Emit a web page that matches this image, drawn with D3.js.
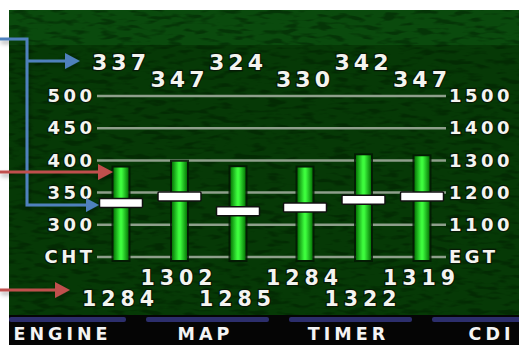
<!DOCTYPE html>
<html><head><meta charset="utf-8">
<script src="https://cdn.jsdelivr.net/npm/d3@7"></script>
<style>html,body{margin:0;padding:0;background:#fff;overflow:hidden}</style>
</head><body><svg id="c" width="519" height="345"></svg>
<script>
const cylinders = ["1","2","3","4","5","6"];
const chtValues = [337, 347, 324, 330, 342, 347];
const egtValues = [1284, 1302, 1285, 1284, 1322, 1319];
const chtTicks = [250, 300, 350, 400, 450, 500];
const chtTickLabels = ["CHT", "300", "350", "400", "450", "500"];
const egtTicks = [1000, 1100, 1200, 1300, 1400, 1500];
const egtTickLabels = ["EGT", "1100", "1200", "1300", "1400", "1500"];
const buttons = ["ENGINE", "MAP", "TIMER", "CDI"];

const svg = d3.select("#c");
const defs = svg.append("defs");

const tex = defs.append("filter").attr("id","tex").attr("x",0).attr("y",0).attr("width","100%").attr("height","100%")
  .attr("color-interpolation-filters","sRGB");
tex.append("feTurbulence").attr("type","fractalNoise").attr("baseFrequency","0.06 0.2").attr("numOctaves",2).attr("seed",7);
tex.append("feColorMatrix").attr("type","matrix")
  .attr("values","0 0 0 0 0.0  0 0 0 0 0.11  0 0 0 0 0.0  -5 0 0 0 2.5");
const g1 = defs.append("linearGradient").attr("id","bar").attr("x1",0).attr("x2",1).attr("y1",0).attr("y2",0);
[[0,"#067a06"],[0.45,"#3dfb3d"],[0.55,"#3dfb3d"],[1,"#067a06"]].forEach(s=>g1.append("stop").attr("offset",s[0]).attr("stop-color",s[1]));
const sh = defs.append("filter").attr("id","shadow").attr("x","-20%").attr("y","-20%").attr("width","140%").attr("height","160%");
sh.append("feDropShadow").attr("dx",1).attr("dy",3).attr("stdDeviation",2).attr("flood-color","#000").attr("flood-opacity",0.35);

// screen background
svg.append("rect").attr("x",9).attr("y",10).attr("width",510).attr("height",335).attr("fill","#063906");
svg.append("rect").attr("x",9).attr("y",10).attr("width",510).attr("height",35).attr("fill","#0a4a0d");
svg.append("rect").attr("x",9).attr("y",10).attr("width",510).attr("height",306).attr("filter","url(#tex)").attr("opacity",0.45);

// scales
const x = d3.scaleLinear().domain([0,2,3,5]).range([121,238,305,422]);
const yC = d3.scaleLinear().domain([250,500]).range([257,96]);
const yE = d3.scaleLinear().domain([1000,1500]).range([257,96]);
const markOff = 2;

// gridlines
svg.append("g").selectAll("line").data(chtTicks).join("line")
  .attr("x1",97).attr("x2",446).attr("y1",d=>yC(d)).attr("y2",d=>yC(d))
  .attr("stroke","#8e9f8b").attr("stroke-width",2.5);

// axes
const font = "DejaVu Sans";
const axLs = 3.5;
const left = svg.append("g").attr("transform",`translate(${92+axLs},0)`)
  .call(d3.axisLeft(yC).tickValues(chtTicks).tickFormat((d,i)=>chtTickLabels[i]).tickSize(0).tickPadding(0));
const right = svg.append("g").attr("transform","translate(449,0)")
  .call(d3.axisRight(yE).tickValues(egtTicks).tickFormat((d,i)=>egtTickLabels[i]).tickSize(0).tickPadding(0));
[left,right].forEach(a=>{
  a.select(".domain").remove();
  a.selectAll("text").attr("font-family",font).attr("font-weight","bold").attr("font-size",18)
    .attr("letter-spacing",axLs).attr("fill","#f4f4f0")
    .attr("stroke","#061a06").attr("stroke-width",2.5).attr("paint-order","stroke");
});

// bars (EGT)
const idx = cylinders.map((c,i)=>i);
svg.append("g").selectAll("rect").data(idx).join("rect")
  .attr("x",i=>x(i)-9.5).attr("width",19)
  .attr("y",i=>yE(egtValues[i])+markOff-2).attr("height",i=>262-(yE(egtValues[i])+markOff-2))
  .attr("fill","#031803").attr("opacity",0.85);
svg.append("g").selectAll("rect").data(idx).join("rect")
  .attr("x",i=>x(i)-7.5).attr("width",15)
  .attr("y",i=>yE(egtValues[i])+markOff).attr("height",i=>260-(yE(egtValues[i])+markOff))
  .attr("fill","url(#bar)");

// CHT markers
svg.append("g").selectAll("rect").data(idx).join("rect")
  .attr("x",i=>x(i)-21.5).attr("width",43)
  .attr("y",i=>yC(chtValues[i])+markOff-4.5).attr("height",9).attr("rx",1)
  .attr("fill","#ffffff").attr("stroke","#101010").attr("stroke-width",1.5);

// value labels
const valLs = 4;
const styleVal = sel => sel.attr("font-family",font).attr("font-weight","bold").attr("font-size",22)
  .attr("letter-spacing",valLs).attr("fill","#f4f4f0").attr("text-anchor","middle")
  .attr("stroke","#061a06").attr("stroke-width",2.5).attr("paint-order","stroke");
svg.append("g").selectAll("text").data(idx).join("text")
  .attr("x",i=>x(i)+valLs/2-2).attr("y",i=>i%2===0?70:87)
  .text(i=>chtValues[i]).call(styleVal);
svg.append("g").selectAll("text").data(idx).join("text")
  .attr("x",i=>x(i)+2.5-3).attr("y",i=>i%2===1?285:306)
  .text(i=>egtValues[i]).call(styleVal).attr("font-size",20.5).attr("letter-spacing",5);

// buttons
const bx = d3.scaleBand().domain(buttons).range([3,555]).paddingInner(0.14);
const bg = svg.append("g");
bg.append("rect").attr("x",9).attr("y",315).attr("width",510).attr("height",30).attr("fill","#050505");
bg.selectAll("rect.nav").data(buttons).join("rect").attr("class","nav")
  .attr("x",d=>Math.max(9,bx(d))).attr("width",d=>bx(d)+bx.bandwidth()-Math.max(9,bx(d)))
  .attr("y",317).attr("height",5).attr("rx",2).attr("fill","#2c2e6c");
bg.selectAll("text").data(buttons).join("text")
  .attr("x",d=>bx(d)+bx.bandwidth()/2-2).attr("y",340).attr("text-anchor","middle")
  .attr("font-family",font).attr("font-weight","bold").attr("font-size",17.5).attr("letter-spacing",4)
  .attr("fill","#f4f4f4").text(d=>d);

// callout arrows
const ar = svg.append("g").attr("filter","url(#shadow)");
const blue = "#4f81bd", red = "#c0504d";
ar.append("path").attr("d","M0,39 H27 V205 H88").attr("fill","none").attr("stroke",blue).attr("stroke-width",3);
ar.append("path").attr("d","M27,61 H68").attr("fill","none").attr("stroke",blue).attr("stroke-width",3);
ar.append("path").attr("d","M86,198 L99,205 L86,212 Z").attr("fill",blue);
ar.append("path").attr("d","M65,53 L80,61 L65,69 Z").attr("fill",blue);
ar.append("path").attr("d","M0,172 H100").attr("fill","none").attr("stroke",red).attr("stroke-width",3);
ar.append("path").attr("d","M98,164 L113,172 L98,180 Z").attr("fill",red);
ar.append("path").attr("d","M0,290 H57").attr("fill","none").attr("stroke",red).attr("stroke-width",3);
ar.append("path").attr("d","M55,282 L70,290 L55,298 Z").attr("fill",red);
</script>
</body></html>
